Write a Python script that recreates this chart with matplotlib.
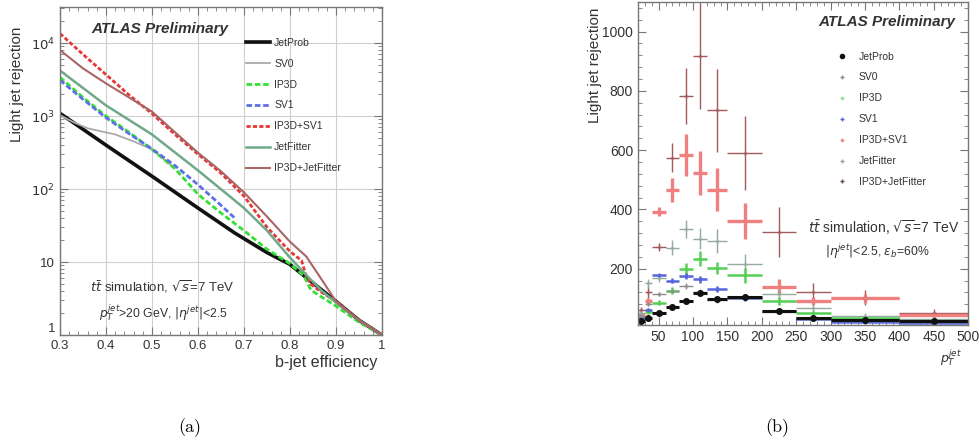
import numpy as np
import matplotlib.pyplot as plt
from matplotlib.ticker import MultipleLocator, FixedLocator, LogLocator, NullFormatter
from matplotlib.lines import Line2D

plt.rcParams['font.family'] = ['Liberation Sans', 'DejaVu Sans']

# ---- panel (a): rejection vs b-jet efficiency ----
jetprob_eff = [0.30, 0.40, 0.50, 0.60, 0.68, 0.75, 0.80, 0.84, 0.90, 0.95, 1.00]
jetprob_rej = [1090, 400, 150, 55, 25, 13.5, 9.3, 5.8, 2.9, 1.6, 1.0]

sv0_eff = [0.30, 0.33, 0.36, 0.42, 0.46, 0.50, 0.54]
sv0_rej = [1030, 820, 680, 560, 450, 350, 215]

ip3d_eff = [0.30, 0.35, 0.40, 0.45, 0.50, 0.55, 0.60, 0.65, 0.70, 0.75, 0.80,
            0.83, 0.845, 0.86, 0.90, 0.95, 1.00]
ip3d_rej = [3400, 1800, 1000, 600, 350, 190, 85, 47, 27, 15, 9.5,
            6.5, 4.2, 3.6, 2.5, 1.5, 1.0]

sv1_eff = [0.30, 0.35, 0.40, 0.45, 0.50, 0.55, 0.60, 0.65, 0.68]
sv1_rej = [3100, 1700, 950, 575, 355, 210, 115, 60, 40]

ip3dsv1_eff = [0.30, 0.35, 0.40, 0.45, 0.50, 0.55, 0.60, 0.65, 0.70, 0.75, 0.80,
               0.825, 0.835, 0.845, 0.87, 0.90, 0.95, 1.00]
ip3dsv1_rej = [13500, 7000, 3700, 1950, 1080, 560, 300, 165, 80, 30, 14,
               10.5, 6.5, 5.0, 3.8, 2.9, 1.6, 1.0]

jetfitter_eff = [0.30, 0.40, 0.50, 0.60, 0.70, 0.75, 0.80, 0.84, 0.87, 0.90, 0.95, 1.00]
jetfitter_rej = [4200, 1400, 560, 180, 55, 27, 11.5, 6.2, 4.0, 2.8, 1.6, 1.0]

ip3djf_eff = [0.30, 0.35, 0.40, 0.45, 0.50, 0.55, 0.60, 0.65, 0.70, 0.75, 0.80,
              0.835, 0.86, 0.90, 0.95, 1.00]
ip3djf_rej = [8000, 4500, 2800, 1800, 1150, 600, 315, 175, 90, 42, 19,
              12, 7.0, 2.9, 1.6, 1.0]

# ---- panel (b): rejection vs jet pT at 60% efficiency ----
pt_lo = np.array([20, 30, 40, 60, 80, 100, 120, 150, 200, 250, 300, 400])
pt_hi = np.array([30, 40, 60, 80, 100, 120, 150, 200, 250, 300, 400, 500])

b_jetprob = [24, 32, 50, 70, 91, 118, 97, 103, 57, 35, 28, 22]
b_jetprob_err = [3, 3, 4, 5, 6, 8, 6, 8, 5, 3, 3, 3]
b_sv0 = [40, 80, 115, 125, 140, 120, 95, 100, 55, 30, 25, 20]
b_sv0_err = [4, 6, 6, 8, 10, 12, 10, 10, 6, 4, 3, 3]
b_ip3d = [30, 55, 85, 125, 200, 234, 203, 178, 91, 50, 35, 20]
b_ip3d_err = [5, 8, 8, 12, 20, 25, 20, 25, 15, 8, 6, 5]
b_sv1 = [35, 60, 177, 160, 175, 164, 130, 100, 57, 30, 20, 18]
b_sv1_err = [4, 6, 6, 8, 10, 12, 10, 10, 6, 4, 3, 3]
b_ip3dsv1 = [45, 90, 392, 465, 583, 523, 467, 360, 139, 91, 100, 45]
b_ip3dsv1_err = [6, 10, 15, 40, 70, 75, 73, 60, 25, 15, 15, 10]
b_jetfitter = [50, 150, 170, 271, 335, 301, 293, 215, 113, 68, 40, 30]
b_jetfitter_err = [8, 15, 15, 25, 30, 35, 40, 35, 25, 15, 10, 10]
b_ip3djf = [60, 120, 273, 575, 783, 918, 734, 590, 323, 120, 102, 50]
b_ip3djf_err = [10, 20, 15, 50, 95, 180, 140, 125, 85, 30, 25, 15]

labels = ['JetProb', 'SV0', 'IP3D', 'SV1', 'IP3D+SV1', 'JetFitter', 'IP3D+JetFitter']

txt = '#333333'
fig = plt.figure(figsize=(9.8, 4.48), dpi=100)
ax1 = fig.add_axes([0.0612, 0.252, 0.3286, 0.732])
ax2 = fig.add_axes([0.651, 0.2746, 0.337, 0.721])

# panel (a)
ax1.set_yscale('log')
ax1.plot(jetprob_eff, jetprob_rej, color='#111111', lw=2.6, label=labels[0])
ax1.plot(sv0_eff, sv0_rej, color='#aaaaaa', lw=1.3, label=labels[1])
ax1.plot(ip3d_eff, ip3d_rej, color='#33e033', lw=2.0, ls=(0, (2, 1)), label=labels[2])
ax1.plot(sv1_eff, sv1_rej, color='#5f6fe8', lw=2.0, ls=(0, (2, 1)), label=labels[3])
ax1.plot(ip3dsv1_eff, ip3dsv1_rej, color='#e83535', lw=2.0, ls=(0, (1.5, 0.8)), label=labels[4])
ax1.plot(jetfitter_eff, jetfitter_rej, color='#6fa98a', lw=1.8, label=labels[5])
ax1.plot(ip3djf_eff, ip3djf_rej, color='#a96565', lw=1.5, label=labels[6])

ax1.set_xlim(0.3, 1.0)
ax1.set_ylim(1, 3.1e4)
ax1.set_xticks(np.arange(0.3, 1.01, 0.1))
ax1.set_xticklabels(['0.3', '0.4', '0.5', '0.6', '0.7', '0.8', '0.9', '1'])
ax1.xaxis.set_minor_locator(MultipleLocator(0.02))
ax1.yaxis.set_major_locator(FixedLocator([1, 10, 100, 1000, 10000]))
ax1.set_yticklabels(['1', '10', r'$10^2$', r'$10^3$', r'$10^4$'])
ax1.yaxis.set_minor_locator(LogLocator(base=10, subs=np.arange(2, 10)))
ax1.yaxis.set_minor_formatter(NullFormatter())
ax1.grid(True, which='major', color='#cfcfcf', lw=0.8)
ax1.set_axisbelow(True)

ax1.legend(loc='upper left', bbox_to_anchor=(0.251, 0.916), bbox_transform=fig.transFigure,
           frameon=False, fontsize=7.5, labelspacing=1.05, handlelength=2.3,
           handletextpad=0.4, borderpad=0, borderaxespad=0, labelcolor=txt)

fig.text(160 / 980, 1 - 29 / 448, 'ATLAS Preliminary', fontsize=11, fontweight='bold',
         fontstyle='italic', color=txt, ha='center', va='center')
fig.text(162 / 980, 1 - 287 / 448, r'$t\bar{t}$ simulation, $\sqrt{s}$=7 TeV',
         fontsize=9.5, color=txt, ha='center', va='center')
fig.text(163 / 980, 1 - 313 / 448, r'$p_T^{jet}$>20 GeV, $|\eta^{jet}|$<2.5',
         fontsize=8.8, color=txt, ha='center', va='center')
fig.text(17 / 980, 1 - 27 / 448, 'Light jet rejection', rotation=90, fontsize=11,
         color=txt, ha='center', va='top')
fig.text(377 / 980, 1 - 363 / 448, 'b-jet efficiency', fontsize=11.5, color=txt,
         ha='right', va='center')

# panel (b)
xc = (pt_lo + pt_hi) / 2
xerr = [xc - pt_lo, pt_hi - xc]
series = [
    (b_ip3djf, b_ip3djf_err, '#a35a5a', '+', 1.0, 3),
    (b_ip3dsv1, b_ip3dsv1_err, '#f07f7f', '+', 2.4, 3),
    (b_jetfitter, b_jetfitter_err, '#93ab9f', '+', 1.0, 3),
    (b_ip3d, b_ip3d_err, '#55d055', '+', 1.8, 3),
    (b_sv1, b_sv1_err, '#5566dd', '+', 1.8, 3),
    (b_sv0, b_sv0_err, '#8c8c8c', '+', 1.0, 3),
    (b_jetprob, b_jetprob_err, '#111111', 'o', 2.2, 4),
]
for y, e, c, m, lw, ms in series:
    ax2.errorbar(xc, y, xerr=xerr, yerr=e, fmt=m, color=c, ecolor=c,
                 elinewidth=lw, ms=ms, capsize=0)

ax2.set_xlim(20, 500)
ax2.set_ylim(10, 1100)
ax2.set_xticks(np.arange(50, 501, 50))
ax2.xaxis.set_minor_locator(MultipleLocator(10))
ax2.set_yticks([200, 400, 600, 800, 1000])
ax2.yaxis.set_minor_locator(MultipleLocator(40))

leg_handles = [
    Line2D([], [], ls='none', marker='o', ms=3, color='#111111'),
    Line2D([], [], ls='none', marker='+', ms=3, color='#8c8c8c'),
    Line2D([], [], ls='none', marker='+', ms=3, color='#8fdc8f'),
    Line2D([], [], ls='none', marker='+', ms=3, color='#5566dd'),
    Line2D([], [], ls='none', marker='+', ms=3, color='#f07f7f'),
    Line2D([], [], ls='none', marker='+', ms=3, color='#93ab9f'),
    Line2D([], [], ls='none', marker='+', ms=3, color='#6a4a4a'),
]
ax2.legend(leg_handles, labels, loc='upper left', bbox_to_anchor=(0.854, 0.885),
           bbox_transform=fig.transFigure, frameon=False, fontsize=7.5,
           labelspacing=1.05, handlelength=1.0, handletextpad=1.1, borderpad=0,
           borderaxespad=0, labelcolor=txt)

fig.text(887 / 980, 1 - 22 / 448, 'ATLAS Preliminary', fontsize=11, fontweight='bold',
         fontstyle='italic', color=txt, ha='center', va='center')
fig.text(884 / 980, 1 - 228 / 448, r'$t\bar{t}$ simulation, $\sqrt{s}$=7 TeV',
         fontsize=10, color=txt, ha='center', va='center')
fig.text(877 / 980, 1 - 252 / 448, r'$|\eta^{jet}|$<2.5, $\epsilon_b$=60%',
         fontsize=8.8, color=txt, ha='center', va='center')
fig.text(595 / 980, 1 - 8 / 448, 'Light jet rejection', rotation=90, fontsize=11,
         color=txt, ha='center', va='top')
fig.text(951 / 980, 1 - 358 / 448, r'$p_T^{jet}$', fontsize=9, color=txt,
         ha='center', va='center')

for ax in (ax1, ax2):
    ax.tick_params(which='both', direction='in', top=True, right=True, colors='#777777',
                   labelcolor=txt)
    ax.tick_params(which='major', length=6)
    ax.tick_params(which='minor', length=3)
    for s in ax.spines.values():
        s.set_color('#777777')
        s.set_linewidth(1.0)
ax1.tick_params(labelsize=9.5)
ax2.tick_params(labelsize=10)
ax1.get_yticklabels()[0].set_va('bottom')

fig.text(190 / 980, 1 - 428 / 448, '(a)', family='cmr10', fontsize=13, ha='center', va='center')
fig.text(777 / 980, 1 - 428 / 448, '(b)', family='cmr10', fontsize=13, ha='center', va='center')

fig.savefig('out.png', dpi=100)
